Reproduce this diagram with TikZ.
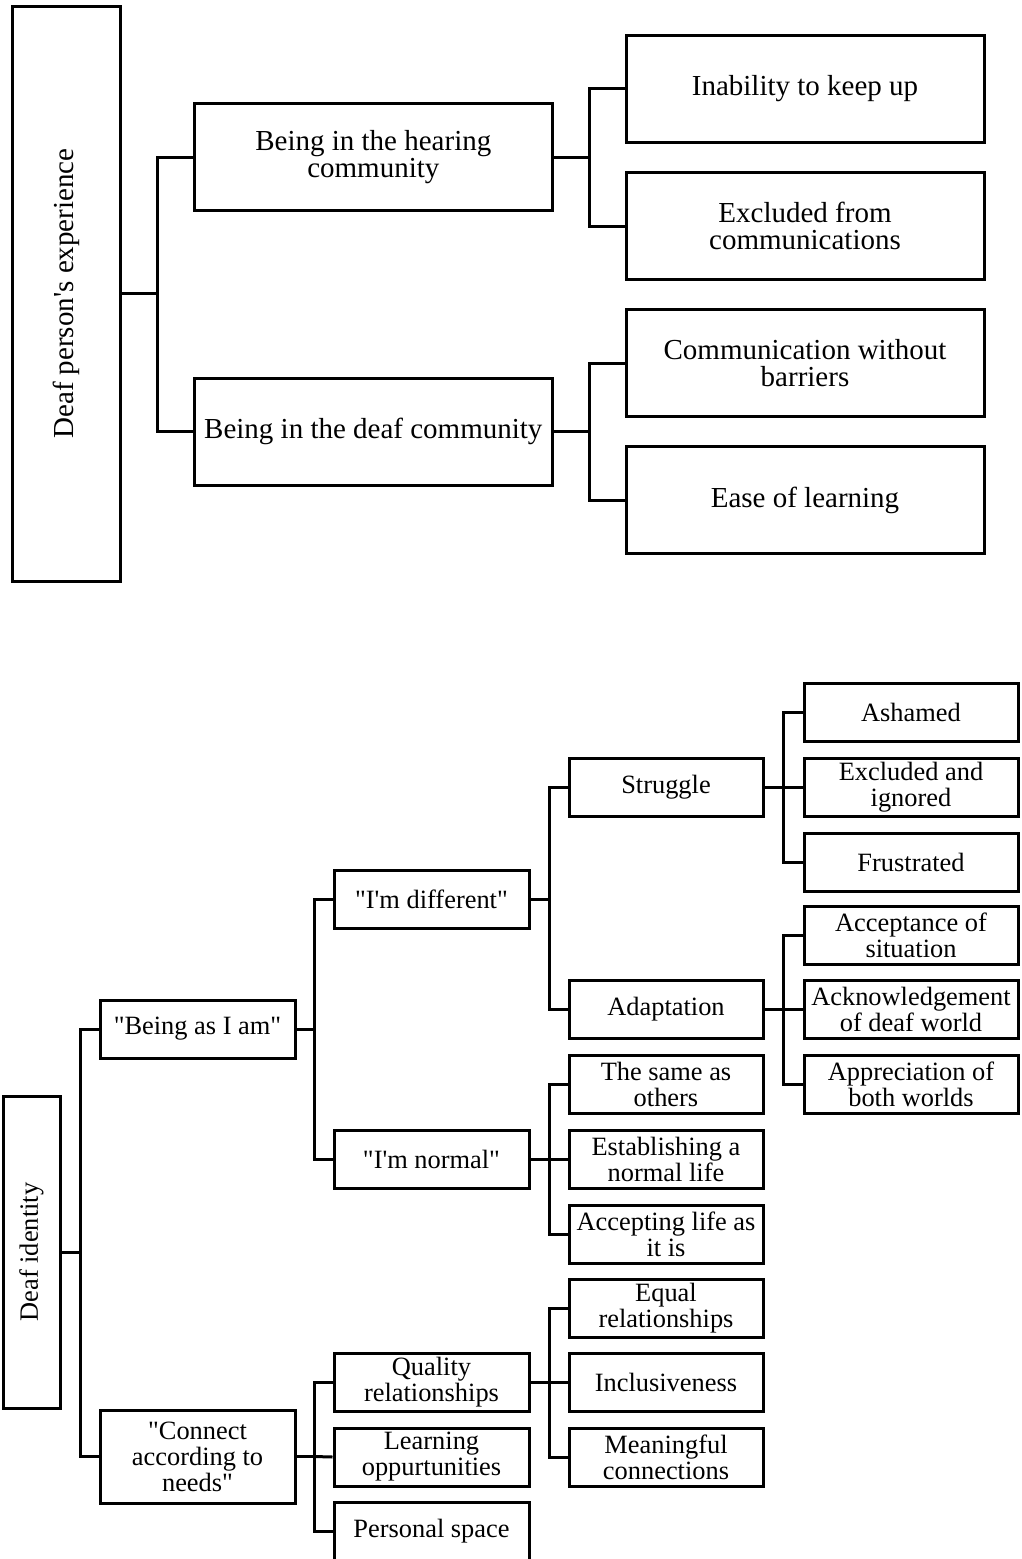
\documentclass[tikz,border=0pt]{standalone}
\usepackage{fontspec}
\newfontfamily\treefont{Liberation Serif}
\begin{document}
\begin{tikzpicture}[x=1pt,y=-1pt,
  box/.style={draw, line width=3pt, inner sep=0pt, align=center},
  upper/.style={box, minimum width=358, minimum height=107,
    font=\treefont\fontsize{29}{27.5}\selectfont},
  lower/.style={box, minimum height=58,
    font=\treefont\fontsize{26.4}{26}\selectfont},
  link/.style={line width=3pt}]
\useasboundingbox (0,0) rectangle (1021,1559);
\fill[white] (0,0) rectangle (1021,1559);

% ---------- Deaf person's experience ----------
\node[upper, minimum width=108, minimum height=575] (root1) at (66.5,293.5)
  {\rotatebox{90}{Deaf person's experience}};
\node[upper] (hear)  at (373.3,157)   {Being in the hearing\\community};
\node[upper] (deafc) at (373.3,431.5) {Being in the deaf community};
\node[upper] (inab)  at (805,88.5)    {Inability to keep up};
\node[upper] (excl)  at (805,226)     {Excluded from\\communications};
\node[upper] (comm)  at (805,363)     {Communication without\\barriers};
\node[upper] (ease)  at (805,500)     {Ease of learning};

\coordinate (a1) at (157,293.5);
\coordinate (a2) at (589,157);
\coordinate (a3) at (589,431.5);
\draw[link] (root1.east) -- (a1);
\draw[link] (hear.west) -| (a1);
\draw[link] (deafc.west) -| (a1);
\draw[link] (hear.east) -- (a2);
\draw[link] (inab.west) -| (a2);
\draw[link] (excl.west) -| (a2);
\draw[link] (deafc.east) -- (a3);
\draw[link] (comm.west) -| (a3);
\draw[link] (ease.west) -| (a3);

% ---------- Deaf identity ----------
\node[lower, minimum width=57, minimum height=312] (root2) at (31.5,1252)
  {\rotatebox{90}{Deaf identity}};
\node[lower, minimum width=195] (being)   at (197.5,1029)   {"Being as I am"};
\node[lower, minimum width=195, minimum height=93] (connect) at (197.5,1456.5)
  {"Connect\\according to\\needs"};

\node[lower, minimum width=195] (diff)   at (431.5,899)    {"I'm different"};
\node[lower, minimum width=195] (normal) at (431.5,1159)   {"I'm normal"};
\node[lower, minimum width=195] (qual)   at (431.5,1382.5) {Quality\\relationships};
\node[lower, minimum width=195] (learn)  at (431.5,1457)   {Learning\\oppurtunities};
\node[lower, minimum width=195] (pers)   at (431.5,1531.5) {Personal space};

\node[lower, minimum width=194] (strug) at (666,787)    {Struggle};
\node[lower, minimum width=194] (adapt) at (666,1009.5) {Adaptation};
\node[lower, minimum width=194] (same)  at (666,1084.5) {The same as\\others};
\node[lower, minimum width=194] (estab) at (666,1159)   {Establishing a\\normal life};
\node[lower, minimum width=194] (accl)  at (666,1234)   {Accepting life as\\it is};
\node[lower, minimum width=194] (equal) at (666,1308)   {Equal\\relationships};
\node[lower, minimum width=194] (incl)  at (666,1382.5) {Inclusiveness};
\node[lower, minimum width=194] (mean)  at (666,1457)   {Meaningful\\connections};

\node[lower, minimum width=214] (asham) at (911,712.5)  {Ashamed};
\node[lower, minimum width=214] (exig)  at (911,787)    {Excluded and\\ignored};
\node[lower, minimum width=214] (frus)  at (911,862)    {Frustrated};
\node[lower, minimum width=214] (accs)  at (911,935.5)  {Acceptance of\\situation};
\node[lower, minimum width=214] (ackn)  at (911,1009.5) {Acknowledgement\\of deaf world};
\node[lower, minimum width=214] (appr)  at (911,1084.5) {Appreciation of\\both worlds};

\coordinate (b1) at (80,1252);
\coordinate (b2) at (314,1029);
\coordinate (b3) at (314,1456.5);
\coordinate (b4) at (549,899);
\coordinate (b5) at (549,1159);
\coordinate (b6) at (549,1382.5);
\coordinate (b7) at (783,787);
\coordinate (b8) at (783,1009.5);

\draw[link] (root2.east) -- (b1);
\draw[link] (being.west) -| (b1);
\draw[link] (connect.west) -| (b1);

\draw[link] (being.east) -- (b2);
\draw[link] (diff.west) -| (b2);
\draw[link] (normal.west) -| (b2);

\draw[link] (connect.east) -- (b3);
\draw[link] (qual.west) -| (b3);
\draw[link] (learn.west) -- (b3);
\draw[link] (pers.west) -| (b3);

\draw[link] (diff.east) -- (b4);
\draw[link] (strug.west) -| (b4);
\draw[link] (adapt.west) -| (b4);

\draw[link] (normal.east) -- (b5);
\draw[link] (same.west) -| (b5);
\draw[link] (estab.west) -- (b5);
\draw[link] (accl.west) -| (b5);

\draw[link] (qual.east) -- (b6);
\draw[link] (equal.west) -| (b6);
\draw[link] (incl.west) -- (b6);
\draw[link] (mean.west) -| (b6);

\draw[link] (strug.east) -- (b7);
\draw[link] (asham.west) -| (b7);
\draw[link] (exig.west) -- (b7);
\draw[link] (frus.west) -| (b7);

\draw[link] (adapt.east) -- (b8);
\draw[link] (accs.west) -| (b8);
\draw[link] (ackn.west) -- (b8);
\draw[link] (appr.west) -| (b8);
\end{tikzpicture}
\end{document}
